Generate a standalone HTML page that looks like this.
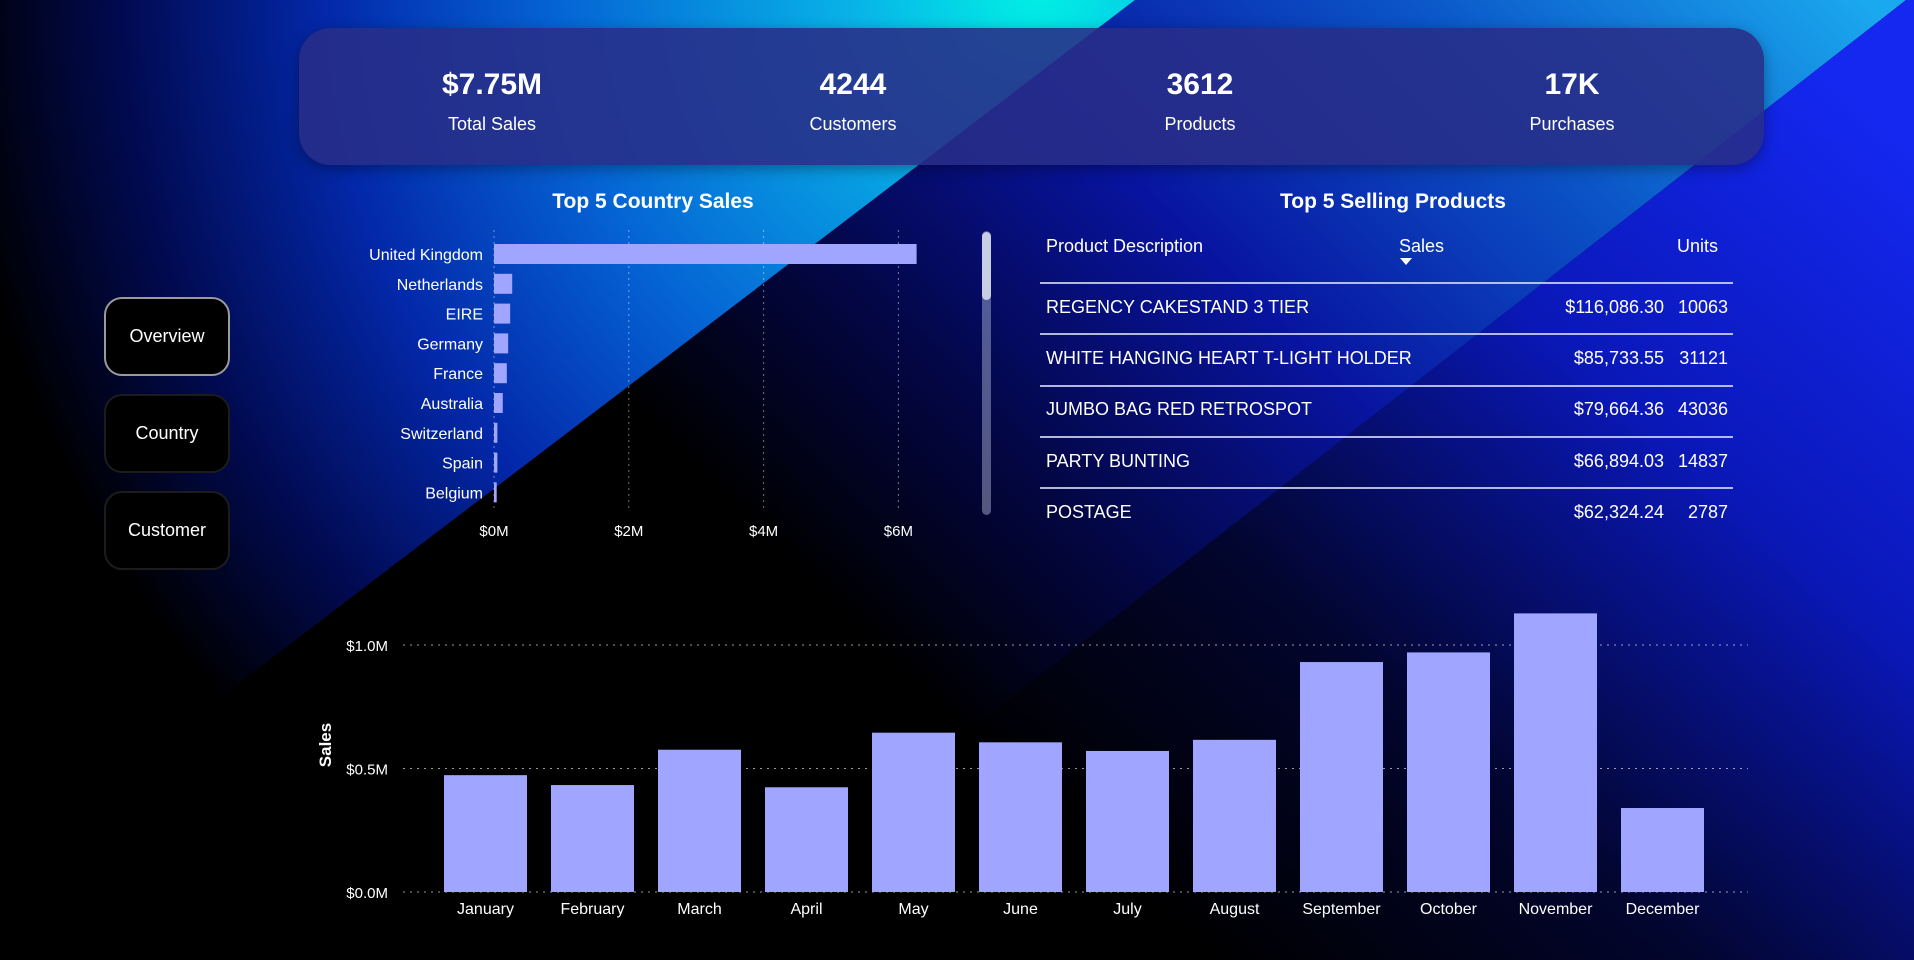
<!DOCTYPE html>
<html><head><meta charset="utf-8"><style>
html,body{margin:0;padding:0;background:#000;}
#root{position:relative;width:1914px;height:960px;overflow:hidden;font-family:"Liberation Sans",sans-serif;color:#fff;}
svg{position:absolute;left:0;top:0;}
.kpi{position:absolute;left:299px;top:28px;width:1465px;height:137px;border-radius:32px;background:rgba(40,46,135,0.88);box-shadow:0 4px 14px rgba(0,0,0,0.35);}
.kv{position:absolute;width:240px;text-align:center;font-weight:bold;font-size:30px;top:40px;}
.kl{position:absolute;width:240px;text-align:center;font-size:18px;top:86px;}
.nav{position:absolute;left:104px;width:126px;height:79px;border-radius:18px;background:#000;border:2px solid #1c1c1c;box-sizing:border-box;display:flex;align-items:center;justify-content:center;font-size:18px;}
.title{position:absolute;font-weight:bold;font-size:21px;text-align:center;}
.th{position:absolute;font-size:18px;top:236px;}
.row{position:absolute;left:1046px;width:682px;font-size:18px;}
.row span{position:absolute;}
</style></head><body>
<div id="root">
<svg width="1914" height="960">
<defs>
<radialGradient id="g1" gradientUnits="userSpaceOnUse" cx="1040" cy="-20" r="1150">
<stop offset="0" stop-color="#00f4e4"/><stop offset="0.16" stop-color="#08b4e8"/><stop offset="0.42" stop-color="#0564d4"/><stop offset="0.62" stop-color="#0328aa"/><stop offset="0.8" stop-color="#010a50"/><stop offset="0.95" stop-color="#000"/></radialGradient>
<linearGradient id="g2" gradientUnits="userSpaceOnUse" x1="1800" y1="-60" x2="900" y2="850">
<stop offset="0" stop-color="#1aa8ee"/><stop offset="0.25" stop-color="#0b55c8"/><stop offset="0.5" stop-color="#0814a0"/><stop offset="0.72" stop-color="#030642"/><stop offset="0.9" stop-color="#000"/></linearGradient>
<linearGradient id="g3" gradientUnits="userSpaceOnUse" x1="1914" y1="150" x2="1200" y2="950">
<stop offset="0" stop-color="#1428f0"/><stop offset="0.35" stop-color="#0a18b8"/><stop offset="0.7" stop-color="#02052e"/><stop offset="1" stop-color="#000"/></linearGradient>
</defs>
<rect width="1914" height="960" fill="#000"/>
<polygon points="0,0 1135,0 -124,960 0,960" fill="url(#g1)"/>
<polygon points="1135,0 1906,0 675,960 -124,960" fill="url(#g2)"/>
<polygon points="1906,0 1914,0 1914,960 675,960" fill="url(#g3)"/>
</svg>

<div class="kpi">
<div class="kv" style="left:73px">$7.75M</div>
<div class="kl" style="left:73px">Total Sales</div>
<div class="kv" style="left:434px">4244</div>
<div class="kl" style="left:434px">Customers</div>
<div class="kv" style="left:781px">3612</div>
<div class="kl" style="left:781px">Products</div>
<div class="kv" style="left:1153px">17K</div>
<div class="kl" style="left:1153px">Purchases</div>
</div>

<div class="nav" style="top:297px;border-color:#9a9a9a;">Overview</div>
<div class="nav" style="top:394px">Country</div>
<div class="nav" style="top:491px">Customer</div>

<div class="title" style="left:503px;width:300px;top:190px">Top 5 Country Sales</div>
<svg id="cc" width="1914" height="960"></svg>
<div style="position:absolute;left:982px;top:231px;width:9px;height:284px;border-radius:5px;background:rgba(180,190,220,0.45)"></div>
<div style="position:absolute;left:982px;top:232px;width:9px;height:68px;border-radius:5px;background:rgba(220,225,240,0.85)"></div>

<div class="title" style="left:1243px;width:300px;top:190px">Top 5 Selling Products</div>
<div class="th" style="left:1046px">Product Description</div>
<div class="th" style="left:1399px">Sales</div>
<div style="position:absolute;left:1400px;top:258px;width:0;height:0;border-left:6px solid transparent;border-right:6px solid transparent;border-top:7px solid #fff"></div>
<div class="th" style="left:1660px;width:58px;text-align:right">Units</div>
<div id="tbl"></div>

<svg id="mc" width="1914" height="960"></svg>
</div>
<script>
const countries=["United Kingdom","Netherlands","EIRE","Germany","France","Australia","Switzerland","Spain","Belgium"];
const countrySales=[6.27,0.27,0.24,0.21,0.19,0.13,0.05,0.05,0.04];
const countryTicks=[0,2,4,6];
const countryTickLabels=["$0M","$2M","$4M","$6M"];
const products=["REGENCY CAKESTAND 3 TIER","WHITE HANGING HEART T-LIGHT HOLDER","JUMBO BAG RED RETROSPOT","PARTY BUNTING","POSTAGE"];
const productSales=["$116,086.30","$85,733.55","$79,664.36","$66,894.03","$62,324.24"];
const productUnits=["10063","31121","43036","14837","2787"];
const months=["January","February","March","April","May","June","July","August","September","October","November","December"];
const monthSales=[0.473,0.433,0.576,0.424,0.645,0.606,0.571,0.616,0.931,0.970,1.128,0.340];
const monthTicks=[0,0.5,1.0];
const monthTickLabels=["$0.0M","$0.5M","$1.0M"];
const NS="http://www.w3.org/2000/svg";
function mk(p,t,a){const e=document.createElementNS(NS,t);for(const k in a)e.setAttribute(k,a[k]);p.appendChild(e);return e;}
const cc=document.getElementById('cc');
const cx=v=>494+v*67.4, cy=i=>254+i*29.8;
countryTicks.forEach((t,i)=>{
 const l=mk(cc,'line',{x1:cx(t),x2:cx(t),y1:230,y2:510,stroke:'rgba(255,255,255,0.45)','stroke-dasharray':'2 4'});
 
 
 const tx=mk(cc,'text',{x:cx(t),y:536,'text-anchor':'middle',fill:'#fff','font-size':15,'font-family':'Liberation Sans'});
 tx.textContent=countryTickLabels[i];
 
 
});
countries.forEach((c,i)=>{
 const r=mk(cc,'rect',{x:cx(0),y:cy(i)-10,width:Math.max(2,cx(countrySales[i])-cx(0)),height:20,fill:'#a0a6ff'});
 
 
 const tx=mk(cc,'text',{x:483,y:cy(i)+6,'text-anchor':'end',fill:'#fff','font-size':16,'font-family':'Liberation Sans'});
 tx.textContent=c;
 
 
});
const tbl=document.getElementById('tbl');
const lineYs=[282,333,385,436,487];
lineYs.forEach(y=>{const d=document.createElement('div');d.style.cssText='position:absolute;left:1040px;width:693px;height:2px;background:rgba(210,215,240,0.85);top:'+y+'px';
 
 
 tbl.appendChild(d);});
products.forEach((p,i)=>{
 const r=document.createElement('div');r.className='row';r.style.top=(297+i*51.2)+'px';
 
 
 r.innerHTML='<span style="left:0">'+p+'</span><span style="right:64px">'+productSales[i]+'</span><span style="right:0">'+productUnits[i]+'</span>';
 tbl.appendChild(r);
});
const mc=document.getElementById('mc');
const my=v=>892-v*247, mx=i=>444+i*107;
monthTicks.forEach((t,i)=>{
 const l=mk(mc,'line',{x1:403,x2:1748,y1:my(t),y2:my(t),stroke:'rgba(255,255,255,0.6)','stroke-dasharray':'2 5'});
 
 
 const tx=mk(mc,'text',{x:388,y:my(t)+6,'text-anchor':'end',fill:'#fff','font-size':15,'font-family':'Liberation Sans'});
 tx.textContent=monthTickLabels[i];
 
 
});
const yt=mk(mc,'text',{x:0,y:0,transform:'translate(331,745) rotate(-90)','text-anchor':'middle',fill:'#fff','font-size':17,'font-weight':'bold','font-family':'Liberation Sans'});
yt.textContent='Sales';


months.forEach((m,i)=>{
 const r=mk(mc,'rect',{x:mx(i),y:my(monthSales[i]),width:83,height:my(0)-my(monthSales[i]),fill:'#a0a6ff'});
 
 
 const tx=mk(mc,'text',{x:mx(i)+41.5,y:914,'text-anchor':'middle',fill:'#fff','font-size':16,'font-family':'Liberation Sans'});
 tx.textContent=m;
 
 
});
</script>
</body></html>
